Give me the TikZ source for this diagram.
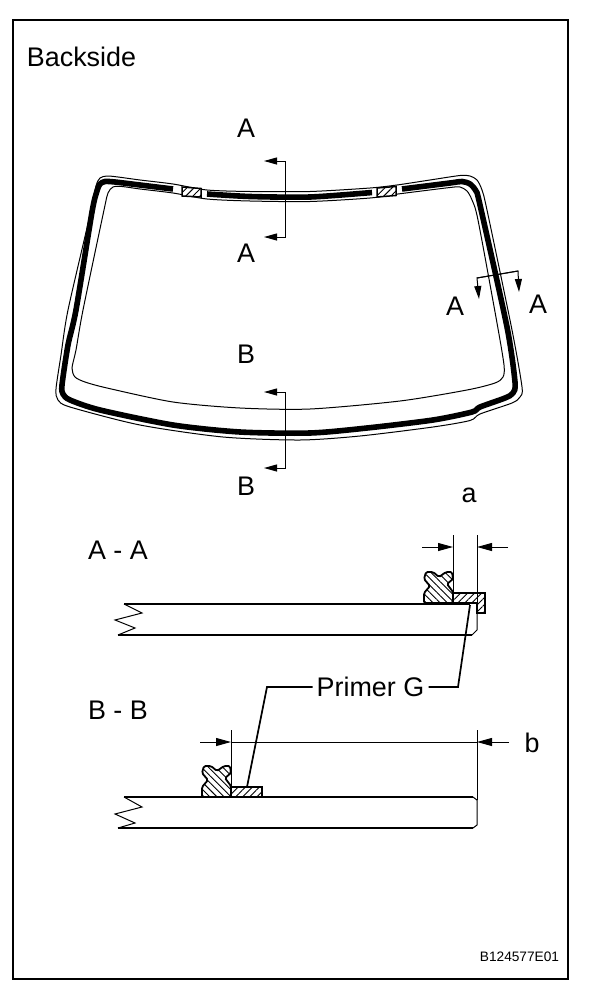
\documentclass[tikz,border=0pt]{standalone}
\usepackage{fontspec}
\setmainfont{Liberation Sans}
\usetikzlibrary{positioning,arrows.meta,patterns.meta}
\tikzset{
	rubberdam/.pic = {
		\path [draw, line width = 1.8pt, rounded corners = 1.5pt, pattern = {Lines[angle = 135, distance = 5pt, line width = 0.9pt]}]
			(-27,-31) -- (-20,-31) -- (-14,-26) -- (-7,-31) -- (-1,-31) -- (0,-24) -- (-6,-19) -- (0,-11) -- (0,0) -- (-29,0) -- (-29,-10) -- (-23,-17) -- (-29,-24) -- cycle;
	}
}
\begin{document}
\begin{tikzpicture}[x = 1pt, y = -1pt]
		\tikzstyle{bigtext} = [inner sep = 0pt, font = \fontsize{26.9}{30}\selectfont];
		\tikzstyle{thinline} = [draw, line width = 1pt];
		\tikzstyle{glassline} = [draw, line width = 1.6pt];
		\tikzstyle{band} = [draw, line width = 5.6pt, smooth, tension = 0.45];
		\tikzstyle{cutpath} = [draw, line width = 1pt, -{Stealth[length = 13pt, width = 7pt, inset = 0pt]}];
		\tikzstyle{dimpath} = [draw, line width = 1pt, -{Stealth[length = 15pt, width = 8pt, inset = 0pt]}];
		\tikzstyle{hatchbox} = [draw, line width = 1.5pt, preaction = {fill = white}, pattern = {Lines[angle = 45, distance = 5pt, line width = 0.9pt]}];
		\useasboundingbox (0,0) rectangle (608,990);
		\node (frame) at (290.5,499.5) [rectangle, draw, line width = 2pt, minimum width = 555pt, minimum height = 959pt, inner sep = 0pt] {};
		% texts
		\node (backside) at (81.5,57) [bigtext] {Backside};
		\node (topA) at (246,128) [bigtext] {A};
		\node (midA) at (246,253) [bigtext] {A};
		\node (leftA) at (455,306) [bigtext] {A};
		\node (rightA) at (538,304) [bigtext] {A};
		\node (topB) at (246,354) [bigtext] {B};
		\node (lowB) at (246,486) [bigtext] {B};
		\node (dima) at (469,495) [bigtext] {a};
		\node (dimb) at (532,743) [bigtext] {b};
		\node (secA) at (118,550) [bigtext] {A - A};
		\node (secB) at (118,710) [bigtext] {B - B};
		\node (primer) at (370.5,687) [bigtext] {Primer G};
		\node (code) at (519.5,957) [inner sep = 0pt, font = \fontsize{13.7}{15}\selectfont] {B124577E01};
		% glass outlines
		\draw [line width = 1pt] plot [smooth cycle, tension = 0.45] coordinates {(173,184) (140,180) (118,177) (107,176) (100,178) (96,186) (90,215) (68,310) (61,355) (56,389) (58,400) (70,407) (140,425) (223,437) (300,440) (360,436) (433,427) (470,420.5) (480,414) (512,403) (520,397) (522,387) (512,330) (487,210) (482,190) (477,180) (470,176) (460,175.5) (430,180) (397,185) (370,188) (310,191.5) (250,191.5) (207,190)};
		\draw [line width = 1pt] plot [smooth cycle, tension = 0.45] coordinates {(173,193) (140,189) (122,186.5) (113,187) (108,193) (104,210) (83,310) (76,350) (72,368) (75,377) (85,382) (107,388) (173,402) (240,408) (310,409) (400,401) (467,390) (495,383) (503,377) (504,365) (497,323) (478,220) (472,200) (467,191) (460,187) (450,187.5) (398,194) (370,198) (310,201.5) (250,201) (207,199)};
		% black band, broken at the two hatched parts
		\draw [band] plot [smooth, tension = 0.45] coordinates {(173,189) (140,185) (115,182) (105,181.5) (100,184) (97,191) (92,212) (76,310) (68,345) (62,385) (63,394) (70,400) (100,410) (173,425) (240,432) (310,433) (367,428) (433,420) (472,412) (480,407) (505,398) (513,393) (515,382) (507,327) (480,205) (476,191) (470,184) (462,181.5) (450,183) (402,189)};
		\draw [band] plot [smooth, tension = 0.45] coordinates {(207,194) (250,196.5) (310,197) (372,192.5)};
		\path [hatchbox] (182,187) -- (201,188.5) -- (201,197) -- (182,196) -- cycle;
		\path [hatchbox] (377,188) -- (396,186.5) -- (396,195.5) -- (377,197) -- cycle;
		% section marks on the glass
		\coordinate (cutA1) at (285.5,161);
		\coordinate (cutA2) at (285.5,237);
		\coordinate (endA1) at (264,161);
		\coordinate (endA2) at (264,237);
		\path [cutpath] (cutA2) -- (cutA1) -- (endA1);
		\path [cutpath] (cutA1) -- (cutA2) -- (endA2);
		\coordinate (cutB1) at (285.5,392);
		\coordinate (cutB2) at (285.5,468);
		\coordinate (endB1) at (264,392);
		\coordinate (endB2) at (264,468);
		\path [cutpath] (cutB2) -- (cutB1) -- (endB1);
		\path [cutpath] (cutB1) -- (cutB2) -- (endB2);
		\coordinate (cutC1) at (477,278);
		\coordinate (cutC2) at (518,271);
		\coordinate (endC1) at (479,299);
		\coordinate (endC2) at (519,292);
		\path [cutpath] (cutC2) -- (cutC1) -- (endC1);
		\path [cutpath] (cutC1) -- (cutC2) -- (endC2);
		% section A - A
		\draw [thinline, line width = 1.2pt] (124,604) -- (470,604);
		\draw [glassline, line width = 2pt] (118,635) -- (472,635);
		\draw [thinline] (477,613) -- (477,630) -- (472,635);
		\draw [thinline] (124,604) -- (142,613) -- (115,620) -- (135,628) -- (118,635);
		\pic at (453,603) {rubberdam};
		\path [hatchbox, line width = 1.8pt] (453,593) -- (485,593) -- (485,613) -- (477,613) -- (477,603) -- (453,603) -- cycle;
		\coordinate (extA1) at (453,535);
		\coordinate (extA2) at (453,598);
		\coordinate (extA3) at (477,535);
		\coordinate (extA4) at (477,613);
		\draw [thinline] (extA1) -- (extA2) (extA3) -- (extA4);
		\coordinate (dimA1) at (422,547);
		\coordinate (dimA2) at (508,547);
		\path [dimpath] (dimA1) -- (dimA1 -| extA1);
		\path [dimpath] (dimA2) -- (dimA2 -| extA3);
		% section B - B
		\draw [glassline] (124,797) -- (473,797);
		\draw [glassline] (118,828) -- (473,828);
		\draw [thinline] (473,797) -- (477,800) -- (477,825) -- (473,828);
		\draw [thinline] (124,797) -- (142,807) -- (115,814) -- (135,823) -- (118,828);
		\pic at (231,797) {rubberdam};
		\path [hatchbox, line width = 1.8pt] (231,787) -- (262,787) -- (262,797) -- (231,797) -- cycle;
		\coordinate (extB1) at (231,730);
		\coordinate (extB2) at (231,797);
		\coordinate (extB3) at (477,730);
		\coordinate (extB4) at (477,800);
		\draw [thinline] (extB1) -- (extB2) (extB3) -- (extB4);
		\coordinate (dimB1) at (200,742);
		\coordinate (dimB2) at (509,742);
		\path [dimpath] (dimB1) -- (dimB1 -| extB1);
		\path [dimpath] (dimB2) -- (dimB2 -| extB3);
		\draw [thinline] (dimB1 -| extB1) -- (dimB1 -| extB3);
		% leaders of the primer
		\coordinate (leadL) at (247,787);
		\coordinate (leadR) at (470,605);
		\draw [line width = 1.7pt] (primer.west) ++(-4,0) -- (267,687) -- (leadL);
		\draw [line width = 1.7pt] (primer.east) ++(4,0) -- (458,687) -- (leadR);
	\end{tikzpicture}
\end{document}
